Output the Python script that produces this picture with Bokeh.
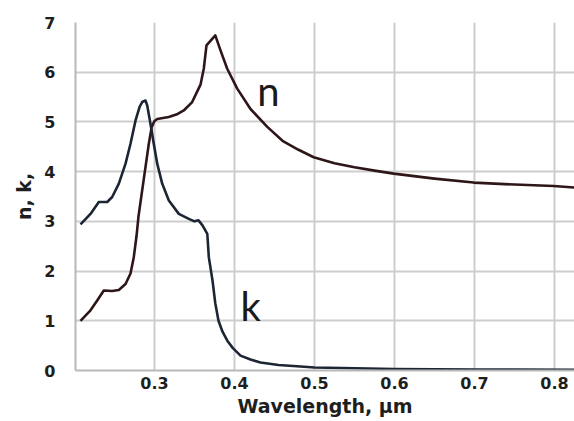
from bokeh.plotting import figure
from bokeh.models import Range1d, FixedTicker
from bokeh.core.properties import value
from bokeh.embed import file_html
from bokeh.resources import INLINE

# ---- data ----
k_wavelength = [0.2075, 0.220, 0.2304, 0.2409, 0.2471, 0.2554, 0.2638, 0.270, 0.2763, 0.2813,
                0.2846, 0.2888, 0.2909, 0.295, 0.2991, 0.3034, 0.3096, 0.3179, 0.3304, 0.3429,
                0.350, 0.355, 0.360, 0.366, 0.3679, 0.3725, 0.376, 0.380, 0.385, 0.391,
                0.398, 0.4075, 0.420, 0.4325, 0.455, 0.4825, 0.50, 0.55, 0.60, 0.70, 0.825]
k_values = [2.94, 3.15, 3.39, 3.39, 3.49, 3.76, 4.16, 4.56, 5.03, 5.30,
            5.40, 5.43, 5.33, 4.96, 4.56, 4.16, 3.76, 3.42, 3.15, 3.05,
            3.00, 3.02, 2.92, 2.75, 2.28, 1.81, 1.35, 1.00, 0.78, 0.60,
            0.45, 0.30, 0.22, 0.16, 0.11, 0.08, 0.06, 0.045, 0.03, 0.02, 0.015]

n_wavelength = [0.2075, 0.220, 0.2284, 0.2366, 0.2471, 0.2554, 0.2638, 0.270, 0.2741, 0.2775,
                0.280, 0.2835, 0.2866, 0.2929, 0.2965, 0.300, 0.3034, 0.3179, 0.329, 0.3366,
                0.3471, 0.353, 0.3575, 0.3616, 0.365, 0.376, 0.3825, 0.3909, 0.4034, 0.420,
                0.441, 0.46, 0.48, 0.499, 0.525, 0.55, 0.575, 0.599, 0.65, 0.699,
                0.75, 0.799, 0.825]
n_values = [1.00, 1.21, 1.41, 1.61, 1.60, 1.62, 1.74, 1.95, 2.28, 2.70,
            3.10, 3.50, 3.85, 4.56, 4.90, 5.02, 5.06, 5.10, 5.16, 5.23,
            5.40, 5.60, 5.75, 6.07, 6.54, 6.74, 6.44, 6.07, 5.67, 5.26,
            4.90, 4.62, 4.44, 4.29, 4.17, 4.09, 4.02, 3.96, 3.86, 3.78,
            3.74, 3.71, 3.68]

x_ticks = [0.3, 0.4, 0.5, 0.6, 0.7, 0.8]
y_ticks = [0, 1, 2, 3, 4, 5, 6, 7]

curve_labels = ["n", "k"]
label_x = [0.4285, 0.4075]
label_y = [5.63, 1.29]

p = figure(width=574, height=421,
           x_range=Range1d(0.20125, 0.825), y_range=Range1d(0, 7),
           output_backend="svg", toolbar_location=None,
           min_border_left=75, min_border_right=0,
           min_border_top=22, min_border_bottom=51)
p.outline_line_color = None
p.background_fill_color = "white"
p.border_fill_color = "white"

grid_color = "#cdcdcd"
p.xgrid.ticker = FixedTicker(ticks=x_ticks)
p.ygrid.ticker = FixedTicker(ticks=y_ticks)
for g in (p.xgrid, p.ygrid):
    g.grid_line_color = grid_color
    g.grid_line_width = 2

for ax in (p.xaxis, p.yaxis):
    ax.axis_line_color = "#b8b8b8"
    ax.axis_line_width = 2
    ax.major_tick_line_color = None
    ax.minor_tick_line_color = None
    ax.major_tick_out = 0
    ax.major_tick_in = 0
    ax.major_label_text_font = "DejaVu Sans"
    ax.major_label_text_font_style = "bold"
    ax.major_label_text_font_size = "16px"
    ax.major_label_text_color = "#1e1e1e"
    ax.axis_label_text_font = "DejaVu Sans"
    ax.axis_label_text_font_style = "bold"
    ax.axis_label_text_font_size = "19px"
    ax.axis_label_text_color = "#1e1e1e"

p.xaxis.ticker = FixedTicker(ticks=x_ticks)
p.yaxis.ticker = FixedTicker(ticks=y_ticks)
p.xaxis.major_label_standoff = 6
p.yaxis.major_label_standoff = 20
p.xaxis.axis_label = "Wavelength, μm"
p.yaxis.axis_label = "n, k,"
p.xaxis.axis_label_standoff = 3
p.yaxis.axis_label_standoff = 6

p.line(n_wavelength, n_values, line_color="#2e1517", line_width=2.6, line_join="round")
p.line(k_wavelength, k_values, line_color="#1c2534", line_width=2.6, line_join="round")

p.text(x=label_x, y=label_y, text=curve_labels,
       text_font=value("Lato"), text_font_size="40px",
       text_color="#1a1a1a", text_align="left", text_baseline="alphabetic")

open("out.html", "w").write(file_html(p, INLINE))
